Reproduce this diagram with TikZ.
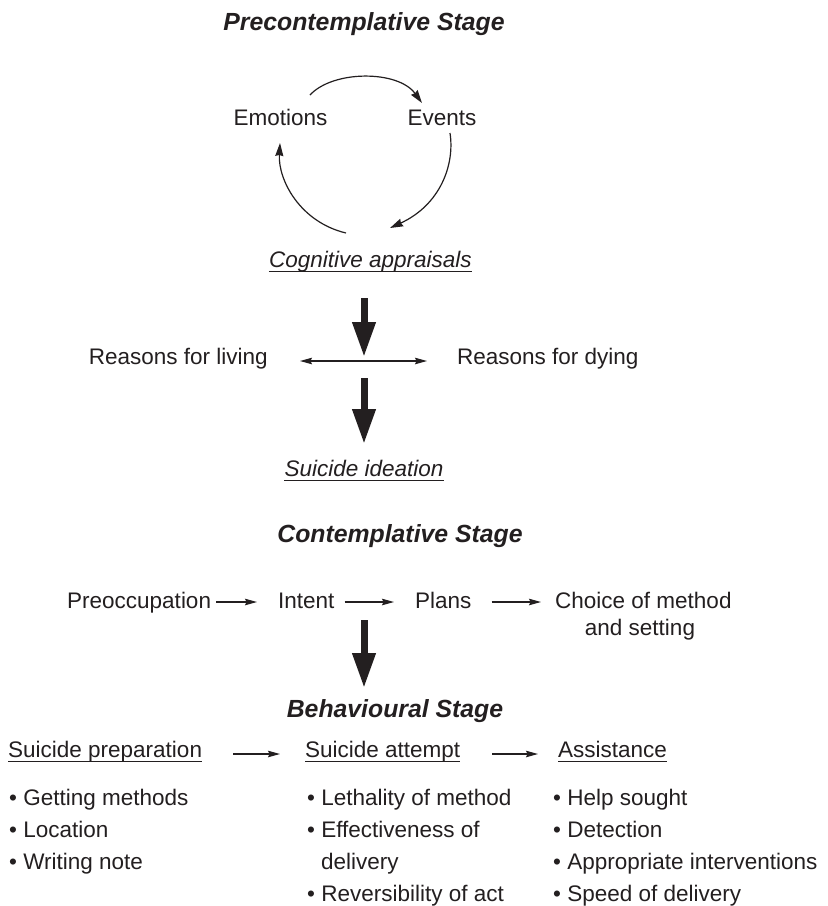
\documentclass[tikz,border=0pt]{standalone}
\usepackage{fontspec}
\setmainfont{Liberation Sans}
\usetikzlibrary{arrows.meta,calc}
\definecolor{ink}{RGB}{35,31,32}
\begin{document}
\begin{tikzpicture}[x=1pt,y=-1pt,
  body/.style={font=\fontsize{22.5}{27}\selectfont, text=ink, inner sep=0pt},
  ital/.style={font=\fontsize{22.5}{27}\selectfont\itshape, text=ink, inner sep=0pt},
  stagetitle/.style={font=\fontsize{24.8}{30}\selectfont\bfseries\itshape, text=ink, inner sep=0pt},
  cyc/.style={draw=ink, line width=1.2pt, -{Stealth[length=13pt,width=8pt,inset=1pt]}},
  flowarrow/.style={draw=ink, line width=1.3pt, -{Stealth[length=12pt,width=6.5pt,inset=1.5pt]}},
  bothways/.style={draw=ink, line width=1.3pt, {Stealth[length=12pt,width=6.5pt,inset=1.5pt]}-{Stealth[length=12pt,width=6.5pt,inset=1.5pt]}},
  bigarrow/.style={draw=ink, line width=7pt, -{Triangle[length=35pt,width=22pt]}},
  uline/.style={draw=ink, line width=1.6pt}
]
\useasboundingbox (0,0) rectangle (828,906);
\fill[white] (0,0) rectangle (828,906);

% ---------- Precontemplative stage ----------
\node[stagetitle, anchor=base] (t1) at (364,30) {Precontemplative Stage};
\node[body, anchor=base] (emo) at (280.5,125) {Emotions};
\node[body, anchor=base] (ev) at (442,125) {Events};
\node[ital, anchor=base] (ca) at (370.5,267) {Cognitive appraisals};
\draw[uline] ([yshift=-4.5pt]ca.base west) -- ([yshift=-4.5pt]ca.base east);

\coordinate (emoR) at (310,95);
\coordinate (evL) at (422,103);
\coordinate (evB) at (450,133);
\coordinate (caR) at (390,228);
\coordinate (caL) at (346,233);
\coordinate (emoB) at (280,143);
\draw[cyc] (emoR) .. controls (333,70) and (398,70) .. (evL);
\draw[cyc] (evB) .. controls (455,165) and (440,205) .. (caR);
\draw[cyc] (caL) .. controls (300,222) and (278,180) .. (emoB);

% ---------- Reasons ----------
\node[body, anchor=base east] (rl) at (268,364) {Reasons for living};
\node[body, anchor=base west] (rd) at (457,364) {Reasons for dying};
\draw[bothways] ([xshift=32pt,yshift=3pt]rl.base east) -- ([xshift=-30pt,yshift=3pt]rd.base west);

\coordinate (a1s) at (364,298);
\coordinate (a1e) at (364,357);
\coordinate (a2s) at (364,378);
\coordinate (a2e) at (364,444);
\draw[bigarrow] (a1s) -- (a1e);
\draw[bigarrow] (a2s) -- (a2e);

\node[ital, anchor=base] (si) at (364,476) {Suicide ideation};
\draw[uline] ([yshift=-4.5pt]si.base west) -- ([yshift=-4.5pt]si.base east);

% ---------- Contemplative stage ----------
\node[stagetitle, anchor=base] (t2) at (400,542) {Contemplative Stage};
\node[body, anchor=base west] (pre) at (67,608) {Preoccupation};
\node[body, anchor=base west] (int) at (278,608) {Intent};
\node[body, anchor=base west] (pla) at (415,608) {Plans};
\node[body, anchor=base west] (cho) at (555,608) {Choice of method};
\node[body, anchor=base] (set) at (640,635) {and setting};
\draw[flowarrow] ([xshift=5pt,yshift=6pt]pre.base east) -- ([xshift=-21pt,yshift=6pt]int.base west);
\draw[flowarrow] ([xshift=10pt,yshift=6pt]int.base east) -- ([xshift=-21pt,yshift=6pt]pla.base west);
\draw[flowarrow] ([xshift=20pt,yshift=6pt]pla.base east) -- ([xshift=-14pt,yshift=6pt]cho.base west);

\coordinate (a3s) at (364,620);
\coordinate (a3e) at (364,688);
\draw[bigarrow] (a3s) -- (a3e);

% ---------- Behavioural stage ----------
\node[stagetitle, anchor=base] (t3) at (395,717) {Behavioural Stage};
\node[body, anchor=base west] (sp) at (8,757) {Suicide preparation};
\node[body, anchor=base west] (sa) at (305,757) {Suicide attempt};
\node[body, anchor=base west] (as) at (558,757) {Assistance};
\foreach \n in {sp,sa,as}
  \draw[uline] ([yshift=-4.5pt]\n.base west) -- ([yshift=-4.5pt]\n.base east);
\draw[flowarrow] ([xshift=31pt,yshift=3pt]sp.base east) -- ([xshift=-25pt,yshift=3pt]sa.base west);
\draw[flowarrow] ([xshift=32pt,yshift=3pt]sa.base east) -- ([xshift=-20pt,yshift=3pt]as.base west);

\node[body, anchor=base west] (b11) at (9,805) {• Getting methods};
\node[body, anchor=base west] (b12) at (9,837) {• Location};
\node[body, anchor=base west] (b13) at (9,869) {• Writing note};

\node[body, anchor=base west] (b21) at (307,805) {• Lethality of method};
\node[body, anchor=base west] (b22) at (307,837) {• Effectiveness of};
\node[body, anchor=base west] (b23) at (321,869) {delivery};
\node[body, anchor=base west] (b24) at (307,901) {• Reversibility of act};

\node[body, anchor=base west] (b31) at (553,805) {• Help sought};
\node[body, anchor=base west] (b32) at (553,837) {• Detection};
\node[body, anchor=base west] (b33) at (553,869) {• Appropriate interventions};
\node[body, anchor=base west] (b34) at (553,901) {• Speed of delivery};
\end{tikzpicture}
\end{document}
